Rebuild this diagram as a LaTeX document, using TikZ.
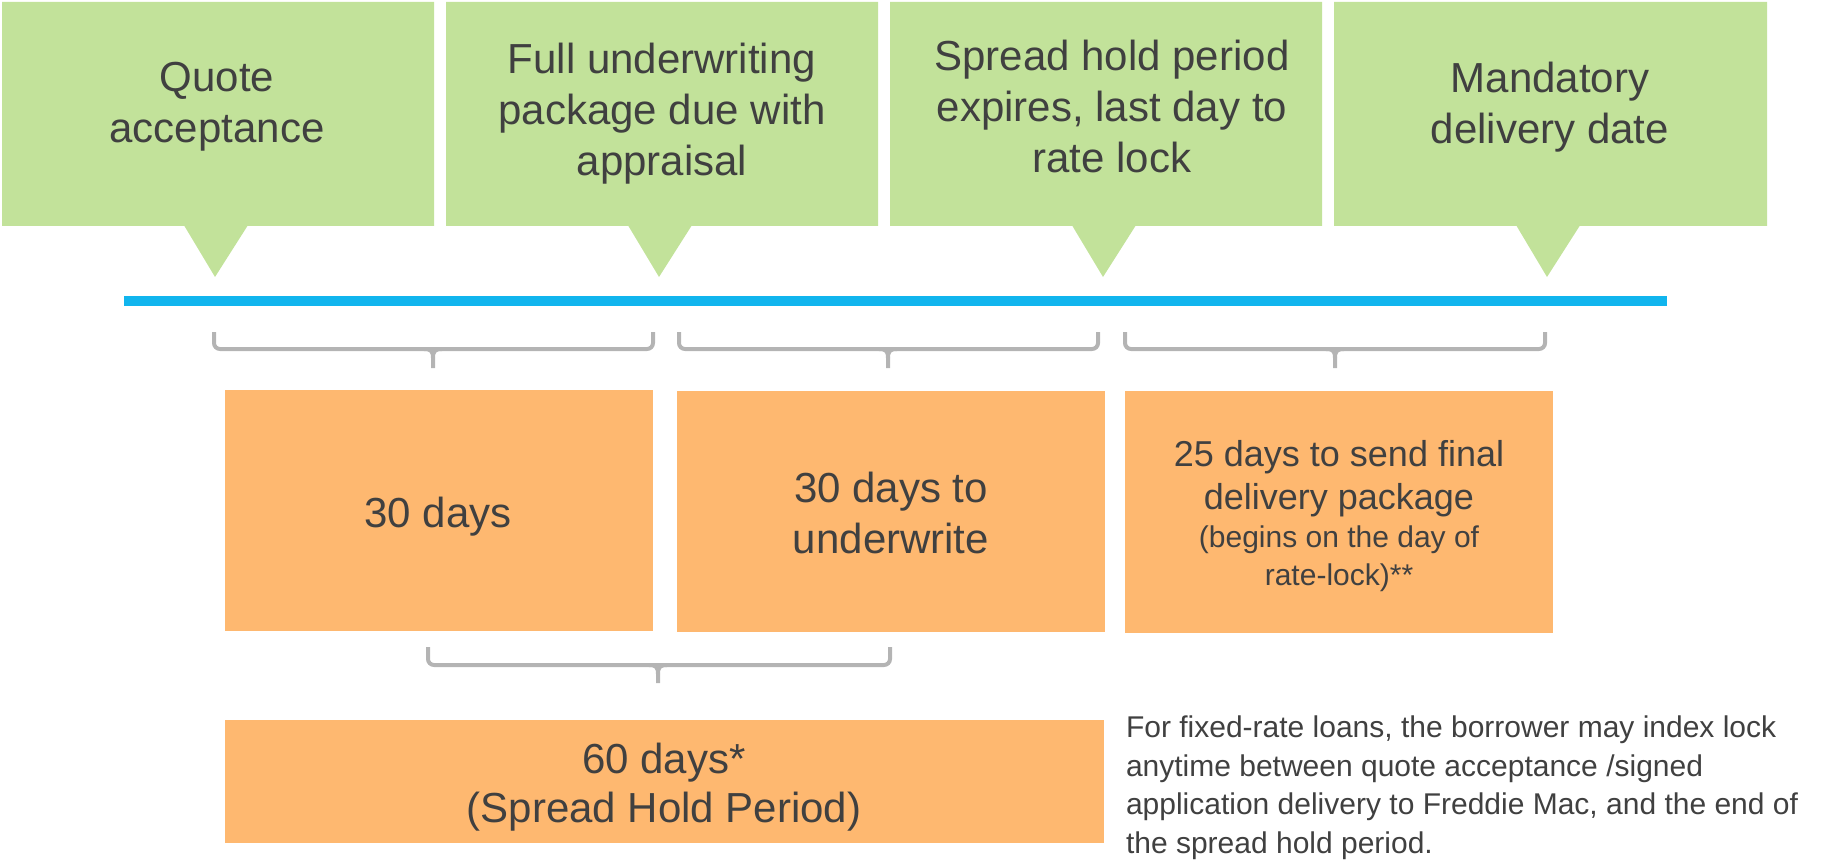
\documentclass[tikz,border=0pt]{standalone}
\usepackage{fontspec}
\setmainfont{Liberation Sans}
\usetikzlibrary{shapes.callouts}
\definecolor{cgreen}{HTML}{C2E29A}
\definecolor{corange}{HTML}{FEB870}
\definecolor{cblue}{HTML}{11B5EE}
\definecolor{cgray}{HTML}{B4B4B4}
\definecolor{ctext}{HTML}{404040}
\tikzset{
  callbox/.style={rectangle callout, fill=cgreen, draw=none, minimum width=432pt,
    minimum height=224pt, inner sep=0pt, outer sep=0pt, callout pointer width=63pt},
  boxtext/.style={text=ctext, align=center, inner sep=0pt, outer sep=0pt, anchor=north},
  bigfont/.style={font=\fontsize{42}{51}\selectfont},
  periodbox/.style={fill=corange, draw=none, inner sep=0pt, outer sep=0pt},
  bracestyle/.style={draw=cgray, line width=4pt},
  timeline/.style={draw=cblue, line width=10pt}
}
\newcommand{\tlbrace}[6]{% x1, x2, xc, top, h, bottom
  \draw[bracestyle, rounded corners=6pt] (#1,#4) -- (#1,#5) -- (#2,#5) -- (#2,#4);
  \draw[bracestyle] (#3-9,#5) .. controls (#3-2,#5) and (#3,#5+2) .. (#3,#5+9) -- (#3,#6);
  \draw[bracestyle] (#3+9,#5) .. controls (#3+2,#5) and (#3,#5+2) .. (#3,#5+9);
}
\begin{document}
\begin{tikzpicture}[x=1pt,y=-1pt]
\useasboundingbox (0,0) rectangle (1845,861);

% pointer tips on the timeline
\coordinate (p1) at (215,277);
\coordinate (p2) at (659,277);
\coordinate (p3) at (1103,277);
\coordinate (p4) at (1547,277);

% green callouts
\node[callbox, callout absolute pointer={(p1)}] (c1) at (218,114) {};
\node[callbox, callout absolute pointer={(p2)}] (c2) at (662,114) {};
\node[callbox, callout absolute pointer={(p3)}] (c3) at (1106,114) {};
\node[callbox, callout absolute pointer={(p4)}, minimum width=433pt] (c4) at (1550.5,114) {};

\node[boxtext, bigfont] (t1) at (217,62) {Quote\\acceptance};
\node[boxtext, bigfont] (t2) at (662,43) {Full underwriting\\package due with\\appraisal};
\node[boxtext, bigfont] (t3) at (1112,40) {Spread hold period\\expires, last day to\\rate lock};
\node[boxtext, bigfont] (t4) at (1550,62) {Mandatory\\delivery date};

% timeline
\coordinate (tlA) at (124,301);
\coordinate (tlB) at (1667,301);
\draw[timeline] (tlA) -- (tlB);

% braces
\tlbrace{214}{653}{433}{332}{349}{368}
\tlbrace{679}{1098}{888}{332}{349}{368}
\tlbrace{1125}{1545}{1335}{332}{349}{368}
\tlbrace{428}{890}{658}{647}{665}{683}

% orange period boxes
\node[periodbox, minimum width=428pt, minimum height=241pt] (oA) at (439,510.5) {};
\node[periodbox, minimum width=428pt, minimum height=241pt] (oB) at (891,511.5) {};
\node[periodbox, minimum width=428pt, minimum height=242pt] (oC) at (1339,512) {};
\node[periodbox, minimum width=879pt, minimum height=123pt] (oD) at (664.5,781.5) {};

\node[boxtext, bigfont] (tA) at (438,497) {30 days};
\node[boxtext, bigfont] (tB) at (891,472) {30 days to\\underwrite};
\node[text=ctext, inner sep=0pt, outer sep=0pt, anchor=north] (tC) at (1339,440)
  {\parbox[t]{428pt}{\centering
   \fontsize{36}{43}\selectfont 25 days to send final\\delivery package\par
   \fontsize{30}{38}\selectfont (begins on the day of\\rate-lock)**\par}};
\node[boxtext, font=\fontsize{42}{49}\selectfont] (tD) at (664,743) {60 days*\\(Spread Hold Period)};

% footnote
\node[text=ctext, align=left, inner sep=0pt, outer sep=0pt, anchor=north west,
  font=\fontsize{30}{38.5}\selectfont] (note) at (1126,716)
  {For fixed-rate loans, the borrower may index lock\\anytime between quote acceptance /signed\\application delivery to Freddie Mac, and the end of\\the spread hold period.};
\end{tikzpicture}
\end{document}
